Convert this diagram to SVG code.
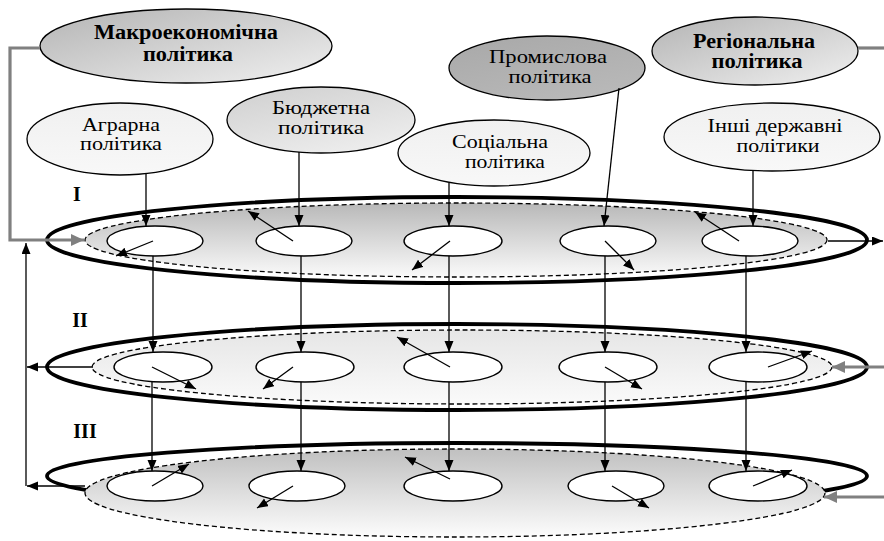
<svg xmlns="http://www.w3.org/2000/svg" width="884" height="541" viewBox="0 0 884 541">
<style>
  text { font-family: "Liberation Serif", "Times New Roman", serif; font-size: 18px; fill: #000; text-anchor: middle; }
  .b { font-weight: bold; font-size: 20px; }
  .pol { stroke: #000; stroke-width: 1.3; }
  .outer { fill: #fff; stroke: #000; stroke-width: 3.8; }
  .dash { stroke: #000; stroke-width: 1.3; stroke-dasharray: 5 3; }
  .small { fill: #fff; stroke: #000; stroke-width: 1.4; }
  .ln { fill: none; stroke: #000; stroke-width: 1.3; }
  .ar { marker-end: url(#ah); }
  .gr { fill: none; stroke: #808080; stroke-width: 3.2; }
</style>
<defs>
  <marker id="ah" markerUnits="userSpaceOnUse" markerWidth="12" markerHeight="10" refX="11" refY="4.5" orient="auto">
    <path d="M0,0 L11,4.5 L0,9 z" fill="#000"/>
  </marker>
  <marker id="gh" markerUnits="userSpaceOnUse" markerWidth="14" markerHeight="13" refX="13" refY="6" orient="auto">
    <path d="M0,0 L13,6 L0,12 z" fill="#808080"/>
  </marker>
  <linearGradient id="gDark" x1="0" y1="0" x2="1" y2="1">
    <stop offset="0" stop-color="#b4b4b4"/>
    <stop offset="1" stop-color="#f0f0f0"/>
  </linearGradient>
  <linearGradient id="gMid" x1="0" y1="0" x2="0.6" y2="1">
    <stop offset="0" stop-color="#cfcfcf"/>
    <stop offset="1" stop-color="#ececec"/>
  </linearGradient>
  <linearGradient id="gProm" x1="0" y1="0" x2="0.6" y2="1">
    <stop offset="0" stop-color="#a8a8a8"/>
    <stop offset="1" stop-color="#b8b8b8"/>
  </linearGradient>
  <linearGradient id="gLight" x1="0" y1="0" x2="0" y2="1">
    <stop offset="0" stop-color="#f0f0f0"/>
    <stop offset="1" stop-color="#f8f8f8"/>
  </linearGradient>
  <linearGradient id="gL1" x1="0" y1="0" x2="0" y2="1">
    <stop offset="0" stop-color="#b8b8b8"/>
    <stop offset="1" stop-color="#fafafa"/>
  </linearGradient>
  <linearGradient id="gL2" x1="0" y1="0" x2="0" y2="1">
    <stop offset="0" stop-color="#e6e6e6"/>
    <stop offset="1" stop-color="#fafafa"/>
  </linearGradient>
  <linearGradient id="gL3" x1="0" y1="0" x2="0" y2="1">
    <stop offset="0" stop-color="#c0c0c0"/>
    <stop offset="1" stop-color="#fcfcfc"/>
  </linearGradient>
</defs>

<!-- Level rings -->
<g id="level1">
  <ellipse class="outer" cx="457" cy="240" rx="410" ry="43"/>
  <ellipse class="dash" cx="456" cy="240" rx="371" ry="37" fill="url(#gL1)"/>
  <ellipse class="small" cx="155" cy="241" rx="48" ry="15"/>
  <ellipse class="small" cx="304" cy="241" rx="48" ry="15"/>
  <ellipse class="small" cx="453" cy="241" rx="49" ry="15"/>
  <ellipse class="small" cx="608" cy="241" rx="48" ry="15"/>
  <ellipse class="small" cx="750" cy="241" rx="48" ry="15"/>
  <text class="b" x="77" y="201">I</text>
</g>
<g id="level2">
  <ellipse class="outer" cx="457" cy="367" rx="410" ry="43"/>
  <ellipse class="dash" cx="462" cy="367" rx="370" ry="37" fill="url(#gL2)"/>
  <ellipse class="small" cx="163" cy="367" rx="49" ry="15"/>
  <ellipse class="small" cx="305" cy="367" rx="49" ry="15"/>
  <ellipse class="small" cx="453" cy="367" rx="49" ry="15"/>
  <ellipse class="small" cx="608" cy="367" rx="49" ry="15"/>
  <ellipse class="small" cx="758" cy="367" rx="49" ry="15"/>
  <text class="b" x="80" y="327">II</text>
</g>
<g id="level3">
  <ellipse class="outer" cx="457" cy="476" rx="410" ry="33"/>
  <ellipse class="dash" cx="455" cy="493" rx="370" ry="44" fill="url(#gL3)"/>
  <ellipse class="small" cx="155" cy="486" rx="48" ry="15"/>
  <ellipse class="small" cx="297" cy="486" rx="48" ry="15"/>
  <ellipse class="small" cx="453" cy="486" rx="49" ry="15"/>
  <ellipse class="small" cx="616" cy="486" rx="48" ry="15"/>
  <ellipse class="small" cx="758" cy="486" rx="49" ry="15"/>
  <text class="b" x="85" y="438">III</text>
</g>

<!-- Policy nodes -->
<g id="macro">
  <ellipse class="pol" cx="186" cy="46" rx="146" ry="37" fill="url(#gDark)"/>
  <text class="b" x="186" y="39" textLength="184" lengthAdjust="spacingAndGlyphs">Макроекономічна</text>
  <text class="b" x="188" y="61" textLength="90" lengthAdjust="spacingAndGlyphs">політика</text>
</g>
<g id="agrarna">
  <ellipse class="pol" cx="120" cy="139" rx="93" ry="36" fill="url(#gLight)"/>
  <text x="121" y="131" textLength="78" lengthAdjust="spacingAndGlyphs">Аграрна</text>
  <text x="121" y="150" textLength="82" lengthAdjust="spacingAndGlyphs">політика</text>
</g>
<g id="budget">
  <ellipse class="pol" cx="321" cy="120" rx="94" ry="33" fill="url(#gMid)"/>
  <text x="321" y="114" textLength="98" lengthAdjust="spacingAndGlyphs">Бюджетна</text>
  <text x="321" y="134" textLength="86" lengthAdjust="spacingAndGlyphs">політика</text>
</g>
<g id="social">
  <ellipse class="pol" cx="494" cy="153" rx="96" ry="33" fill="url(#gLight)"/>
  <text x="500" y="148" textLength="96" lengthAdjust="spacingAndGlyphs">Соціальна</text>
  <text x="505" y="168" textLength="80" lengthAdjust="spacingAndGlyphs">політика</text>
</g>
<g id="prom">
  <ellipse class="pol" cx="547" cy="68" rx="98" ry="32" fill="url(#gProm)"/>
  <text x="548" y="63" textLength="118" lengthAdjust="spacingAndGlyphs">Промислова</text>
  <text x="550" y="83" textLength="83" lengthAdjust="spacingAndGlyphs">політика</text>
</g>
<g id="region">
  <ellipse class="pol" cx="755" cy="51" rx="103" ry="34" fill="url(#gDark)"/>
  <text class="b" x="754" y="48" textLength="122" lengthAdjust="spacingAndGlyphs">Регіональна</text>
  <text class="b" x="757" y="68" textLength="91" lengthAdjust="spacingAndGlyphs">політика</text>
</g>
<g id="other">
  <ellipse class="pol" cx="772" cy="137" rx="108" ry="34" fill="url(#gLight)"/>
  <text x="775" y="132" textLength="135" lengthAdjust="spacingAndGlyphs">Інші державні</text>
  <text x="778" y="152" textLength="83" lengthAdjust="spacingAndGlyphs">політики</text>
</g>

<!-- Connectors -->
<g id="connectors">
  <polyline class="gr" points="40,48 10,48 10,240 84,240" marker-end="url(#gh)"/>
  <line class="gr" x1="858" y1="48" x2="884" y2="48"/>
  <line class="gr" x1="884" y1="367" x2="832" y2="367" marker-end="url(#gh)"/>
  <line class="gr" x1="884" y1="497" x2="824" y2="497" marker-end="url(#gh)"/>

  <line class="ln ar" x1="26" y1="486" x2="26" y2="243"/>
  <line class="ln ar" x1="93" y1="367" x2="27" y2="367"/>
  <line class="ln ar" x1="85" y1="486" x2="27" y2="486"/>
  <line class="ln ar" x1="828" y1="241" x2="883" y2="241"/>

  <line class="ln ar" x1="146" y1="173" x2="146" y2="226"/>
  <line class="ln ar" x1="153" y1="256" x2="153" y2="352"/>
  <line class="ln ar" x1="152" y1="382" x2="152" y2="471"/>
  <line class="ln ar" x1="299" y1="152" x2="299" y2="226"/>
  <line class="ln ar" x1="301" y1="256" x2="301" y2="352"/>
  <line class="ln ar" x1="301" y1="382" x2="301" y2="471"/>
  <line class="ln ar" x1="449" y1="183" x2="449" y2="226"/>
  <line class="ln ar" x1="449" y1="256" x2="449" y2="352"/>
  <line class="ln ar" x1="449" y1="382" x2="449" y2="471"/>
  <line class="ln ar" x1="619" y1="88" x2="604" y2="226"/>
  <line class="ln ar" x1="605" y1="256" x2="605" y2="352"/>
  <line class="ln ar" x1="605" y1="382" x2="605" y2="471"/>
  <line class="ln ar" x1="753" y1="171" x2="753" y2="226"/>
  <line class="ln ar" x1="746" y1="256" x2="746" y2="352"/>
  <line class="ln ar" x1="746" y1="382" x2="746" y2="471"/>

  <line class="ln ar" x1="153" y1="241" x2="116" y2="256"/>
  <line class="ln ar" x1="293" y1="241" x2="248" y2="211"/>
  <line class="ln ar" x1="450" y1="241" x2="412" y2="270"/>
  <line class="ln ar" x1="605" y1="241" x2="634" y2="270"/>
  <line class="ln ar" x1="739" y1="241" x2="695" y2="212"/>
  <line class="ln ar" x1="152" y1="367" x2="196" y2="389"/>
  <line class="ln ar" x1="293" y1="367" x2="263" y2="389"/>
  <line class="ln ar" x1="450" y1="367" x2="397" y2="337"/>
  <line class="ln ar" x1="605" y1="367" x2="642" y2="389"/>
  <line class="ln ar" x1="768" y1="367" x2="812" y2="351"/>
  <line class="ln ar" x1="152" y1="486" x2="189" y2="464"/>
  <line class="ln ar" x1="293" y1="486" x2="257" y2="508"/>
  <line class="ln ar" x1="450" y1="479" x2="405" y2="457"/>
  <line class="ln ar" x1="612" y1="486" x2="649" y2="508"/>
  <line class="ln ar" x1="753" y1="486" x2="792" y2="470"/>
</g>
</svg>
